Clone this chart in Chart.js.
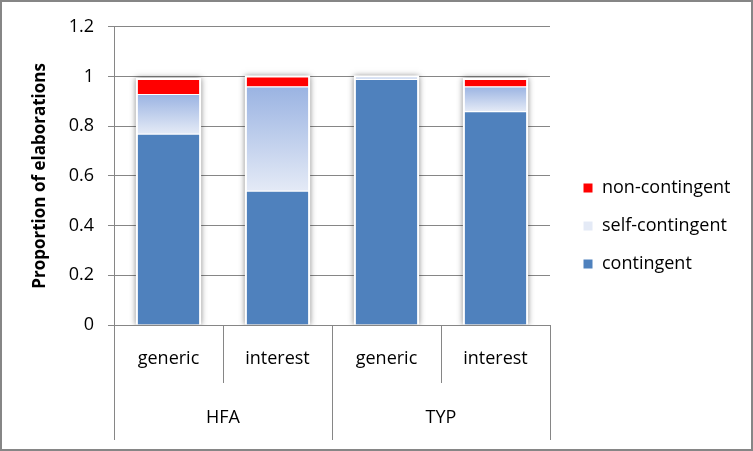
<!DOCTYPE html>
<html>
<head>
<meta charset="utf-8">
<script src="https://cdn.jsdelivr.net/npm/chart.js@4.4.1/dist/chart.umd.min.js"></script>
<style>
  html, body { margin: 0; padding: 0; background: #fff; }
  #wrap { width: 753px; height: 451px; box-sizing: border-box; border: 2px solid #868686; }
  #wrap canvas { display: block; }
</style>
</head>
<body>
<div id="wrap"><canvas id="myChart" width="749" height="447"></canvas></div>
<script>
const categories = ['generic', 'interest', 'generic', 'interest']
const groups = ['HFA', 'TYP']
const contingent = [0.77, 0.54, 0.99, 0.86]
const selfContingent = [0.16, 0.42, 0.01, 0.10]
const nonContingent = [0.06, 0.04, 0, 0.03]
const seriesNames = ['contingent', 'self-contingent', 'non-contingent']

const FONT = "'Open Sans', sans-serif"
const GRID = '#868686'
const LEGEND_GAP = 13 // extra space between plot and legend

Chart.defaults.font.family = FONT
Chart.defaults.font.size = 18
Chart.defaults.color = '#000'

// legend width depends on text, so work out the right padding from it
const m = document.createElement('canvas').getContext('2d')
m.font = `18px ${FONT}`
const textW = Math.max(...seriesNames.map(t => m.measureText(t).width))
const legendW = 20 + 10 + 9 + textW + 10
const padRight = Math.max(0, 749 - 548 - legendW)

// light gradient for the self-contingent segment, top darker
const selfFill = (c) => {
    if (c.type !== 'data' || !c.chart.chartArea) return '#B4C7EA'
    const y = c.chart.scales.y
    const i = c.dataIndex
    const top = y.getPixelForValue(contingent[i] + selfContingent[i])
    const bottom = y.getPixelForValue(contingent[i])
    if (!(bottom - top > 1)) return '#9BB4E2'
    const g = c.chart.ctx.createLinearGradient(0, top, 0, bottom)
    g.addColorStop(0, '#9AB3E2')
    g.addColorStop(1, '#E4EAF6')
    return g
}

// soft shadow behind each stacked column
const barShadow = {
    id: 'barShadow',
    afterLayout(chart) {
        chart.legend.left += LEGEND_GAP
        chart.legend.right += LEGEND_GAP
    },
    beforeDatasetsDraw(chart) {
        const ctx = chart.ctx
        const area = chart.chartArea
        ctx.save()
        ctx.beginPath()
        ctx.rect(area.left, area.top - 10, area.right - area.left, area.bottom - area.top + 10)
        ctx.clip()
        ctx.shadowColor = 'rgba(0,0,0,0.5)'
        ctx.shadowBlur = 6
        ctx.fillStyle = '#fff'
        categories.forEach((_, i) => {
            let top = Infinity, bottom = -Infinity, x = 0, w = 0
            chart.data.datasets.forEach((d, di) => {
                const el = chart.getDatasetMeta(di).data[i]
                if (!el) return
                const p = el.getProps(['x', 'y', 'base', 'width'], true)
                top = Math.min(top, p.y, p.base)
                bottom = Math.max(bottom, p.y, p.base)
                x = p.x
                w = p.width
            })
            ctx.fillRect(x - w / 2 - 1, top - 1, w + 2, bottom - top + 1)
        })
        ctx.restore()
    }
}

const ctx = document.getElementById('myChart').getContext('2d')

const chart = new Chart(ctx, {
    type: 'bar',
    data: {
        labels: categories,
        datasets: [
            { label: seriesNames[0], data: contingent, backgroundColor: '#4F81BD', borderColor: '#fff', borderWidth: 1 },
            { label: seriesNames[1], data: selfContingent, backgroundColor: selfFill, borderColor: '#fff', borderWidth: 1 },
            { label: seriesNames[2], data: nonContingent, backgroundColor: '#FF0000', borderColor: '#fff', borderWidth: 1 }
        ]
    },
    options: {
        responsive: false,
        animation: false,
        barPercentage: 0.58,
        categoryPercentage: 1,
        layout: { padding: { top: 10, left: 0, bottom: 9, right: padRight } },
        plugins: {
            tooltip: { enabled: false },
            legend: {
                position: 'right',
                reverse: true,
                labels: { boxWidth: 10, boxHeight: 10, padding: 20, font: { size: 18 }, color: '#000' }
            }
        },
        scales: {
            x: {
                stacked: true,
                offset: true,
                weight: 0,
                grid: { offset: true, drawOnChartArea: false, tickLength: 58, color: GRID },
                border: { color: GRID },
                ticks: { padding: -35, color: '#000' },
                afterFit: s => { s.height = 58 }
            },
            x2: {
                type: 'category',
                labels: groups,
                position: 'bottom',
                offset: true,
                weight: 1,
                grid: { offset: true, drawOnChartArea: false, tickLength: 57, color: GRID },
                border: { display: false },
                ticks: { padding: -33, color: '#000' },
                afterFit: s => { s.height = 57 }
            },
            y: {
                stacked: true,
                min: 0,
                max: 1.2,
                ticks: { stepSize: 0.2, padding: 14, color: '#000', callback: v => String(+v.toFixed(1)) },
                grid: { color: GRID, tickLength: 6 },
                border: { color: GRID },
                title: {
                    display: true,
                    text: 'Proportion of elaborations',
                    font: { weight: 'bold', size: 17 },
                    color: '#000',
                    padding: { top: 28, bottom: 0 }
                },
                afterFit: s => { s.width = 112 }
            },
            topPad: {
                type: 'linear', position: 'top', display: true,
                ticks: { display: false }, grid: { display: false, drawTicks: false }, border: { display: false },
                afterFit: s => { s.height = 12 }
            }
        }
    },
    plugins: [barShadow]
})
</script>
</body>
</html>
